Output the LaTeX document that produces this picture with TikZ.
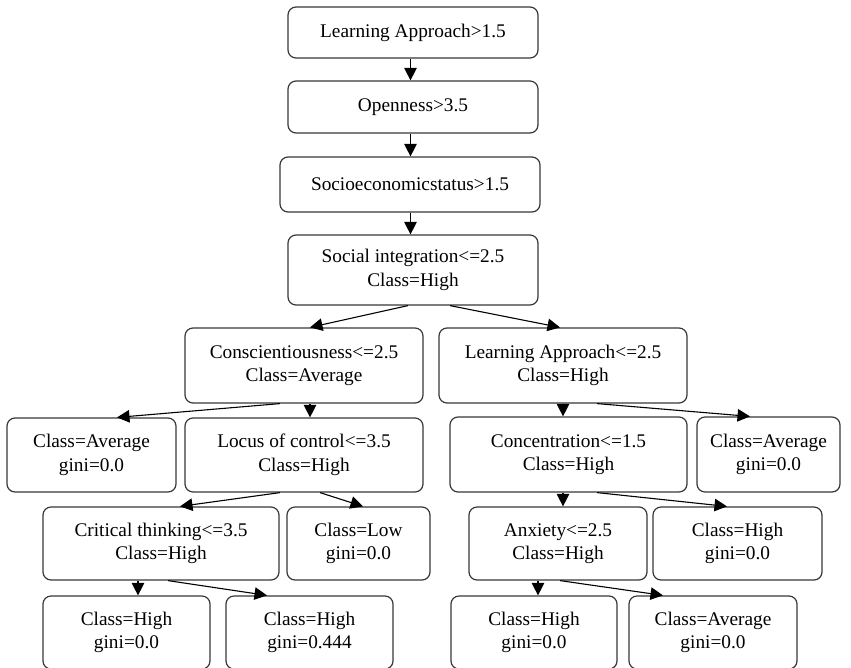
\documentclass[tikz,border=0pt]{standalone}
\usepackage{fontspec}
\setmainfont{Liberation Serif}
\usetikzlibrary{arrows.meta,calc}
\begin{document}
\begin{tikzpicture}[x=1pt,y=-1pt,
  tbox/.style={draw=black!78,line width=1.2pt,rounded corners=8pt,
    inner sep=0pt,align=center,font=\fontsize{19.3}{23.5}\selectfont},
  edge/.style={line width=1.1pt,-{Triangle[length=12.5pt,width=12.5pt]}}]
\useasboundingbox (0,0) rectangle (851,667);
\clip (0,0) rectangle (851,667);

% decision tree nodes
\node[tbox,minimum width=250pt,minimum height=51pt] (b1) at (413,32.5) {Learning Approach>1.5};
\node[tbox,minimum width=250pt,minimum height=52pt] (b2) at (413,107) {Openness>3.5};
\node[tbox,minimum width=260pt,minimum height=55pt] (b3) at (410,184.5) {Socioeconomicstatus>1.5};
\node[tbox,minimum width=250pt,minimum height=70pt] (b4) at (413,270) {Social integration<=2.5\\Class=High};

\node[tbox,minimum width=238pt,minimum height=75pt] (consc) at (304,365.5) {Conscientiousness<=2.5\\Class=Average};
\node[tbox,minimum width=248pt,minimum height=75pt] (la) at (563,365.5) {Learning Approach<=2.5\\Class=High};

\node[tbox,minimum width=169pt,minimum height=74pt] (avgL) at (91.5,455) {Class=Average\\gini=0.0};
\node[tbox,minimum width=238pt,minimum height=74pt] (locus) at (304,455) {Locus of control<=3.5\\Class=High};
\node[tbox,minimum width=237pt,minimum height=75pt] (conc) at (568.5,454.5) {Concentration<=1.5\\Class=High};
\node[tbox,minimum width=143pt,minimum height=75pt] (avgR) at (768.5,454.5) {Class=Average\\gini=0.0};

\node[tbox,minimum width=236pt,minimum height=73pt] (crit) at (161,543.5) {Critical thinking<=3.5\\Class=High};
\node[tbox,minimum width=143pt,minimum height=73pt] (low) at (358.5,543.5) {Class=Low\\gini=0.0};
\node[tbox,minimum width=178pt,minimum height=73pt] (anx) at (558,543.5) {Anxiety<=2.5\\Class=High};
\node[tbox,minimum width=169pt,minimum height=73pt] (highR) at (737.5,543.5) {Class=High\\gini=0.0};

\node[tbox,minimum width=167pt,minimum height=73pt] (hb1) at (126.5,632.5) {Class=High\\gini=0.0};
\node[tbox,minimum width=167pt,minimum height=73pt] (hb2) at (309.5,632.5) {Class=High\\gini=0.444};
\node[tbox,minimum width=166pt,minimum height=73pt] (hb3) at (534,632.5) {Class=High\\gini=0.0};
\node[tbox,minimum width=168pt,minimum height=73pt] (hb4) at (713,632.5) {Class=Average\\gini=0.0};

% connectors
\draw[edge] ($(b1.south)+(-2.5,0)$) -- ($(b2.north)+(-2.5,0)$);
\draw[edge] ($(b2.south)+(-2.5,0)$) -- ($(b3.north)+(0.5,0)$);
\draw[edge] ($(b3.south)+(0.5,0)$) -- ($(b4.north)+(-2.5,0)$);
\draw[edge] ($(b4.south)+(-5,0)$) -- ($(consc.north)+(6,0)$);
\draw[edge] ($(b4.south)+(37,0)$) -- ($(la.north)+(-3,0)$);
\draw[edge] ($(consc.south)+(-24,0)$) -- ($(avgL.north)+(25.5,0)$);
\draw[edge] ($(consc.south)+(6,0)$) -- ($(locus.north)+(6,0)$);
\draw[edge] ($(locus.south)+(-24,0)$) -- ($(crit.north)+(19,0)$);
\draw[edge] ($(locus.south)+(16,0)$) -- ($(low.north)+(4.5,0)$);
\draw[edge] ($(crit.south)+(-23,0)$) -- ($(hb1.north)+(11.5,0)$);
\draw[edge] ($(crit.south)+(7,0)$) -- ($(hb2.north)+(-42.5,0)$);
\draw[edge] (la.south) -- ($(conc.north)+(-5.5,0)$);
\draw[edge] ($(la.south)+(34,0)$) -- ($(avgR.north)+(-18.5,0)$);
\draw[edge] ($(conc.south)+(-5.5,0)$) -- ($(anx.north)+(5,0)$);
\draw[edge] ($(conc.south)+(28.5,0)$) -- ($(highR.north)+(-10.5,0)$);
\draw[edge] ($(anx.south)+(-20,0)$) -- ($(hb3.north)+(4,0)$);
\draw[edge] ($(anx.south)+(2,0)$) -- ($(hb4.north)+(-50,0)$);
\end{tikzpicture}
\end{document}
